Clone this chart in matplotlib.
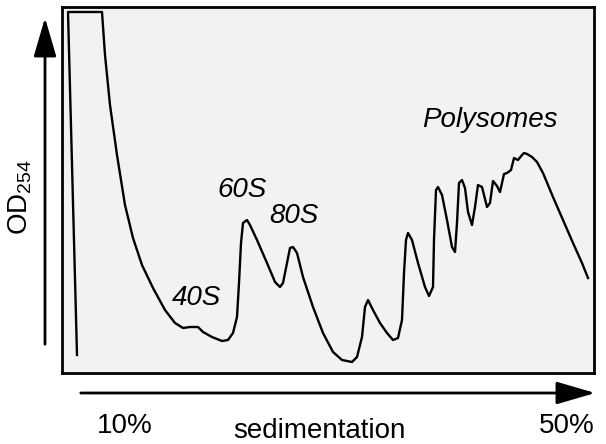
import matplotlib.pyplot as plt

plt.rcParams['font.family'] = ['Liberation Sans', 'DejaVu Sans']
plt.rcParams['mathtext.default'] = 'regular'

# gradient position (arbitrary units, top of gradient at 0) and absorbance trace
position = [15, 6, 40, 43, 48, 55, 63, 71, 80, 91, 103, 113, 121, 128, 136,
            141, 150, 160, 166, 171, 175, 177, 179, 181, 185, 188, 195, 205,
            213, 218, 221, 225, 228, 231, 235, 241, 251, 261, 271, 280, 290,
            295, 300, 303, 306, 311, 318, 325, 331, 336, 340, 342, 344, 346,
            350, 356, 363, 367, 371, 372, 374, 376, 380, 385, 390, 393, 395,
            397, 400, 403, 406, 410, 413, 416, 420, 425, 428, 431, 435, 438,
            442, 445, 449, 452, 456, 460, 462, 465, 470, 475, 481, 491, 501,
            511, 520, 526]
od254 = [18, 361, 361, 318, 268, 218, 168, 135, 108, 85, 63, 50, 45, 46, 46,
         41, 36, 32, 33, 40, 56, 90, 130, 150, 153, 148, 133, 110,
         91, 86, 90, 110, 125, 126, 120, 96, 66, 40, 21, 13, 11,
         16, 36, 66, 73, 63, 50, 40, 33, 35, 53, 100, 133, 140,
         133, 110, 86, 77, 86, 133, 183, 186, 178, 153, 126, 121, 150,
         190, 193, 185, 161, 148, 166, 188, 186, 166, 170, 192, 187, 181,
         199, 200, 203, 215, 213, 218, 220, 219, 216, 211, 200, 176, 153,
         130, 110, 95]

peak_labels = ['40S', '60S', '80S', 'Polysomes']
peak_label_pos = [(134, 68), (180, 176), (232, 150), (428, 246)]

fig = plt.figure(figsize=(6.06, 4.44), dpi=100)
ax = fig.add_axes([62 / 606, 71 / 444, 532 / 606, 366 / 444])
ax.set_facecolor('#f2f2f2')
ax.plot(position, od254, color='black', lw=1.7, solid_joinstyle='round')
ax.set_xlim(0, 532)
ax.set_ylim(0, 366)
ax.set_xticks([])
ax.set_yticks([])
for s in ax.spines.values():
    s.set_linewidth(2)

for lab, (x, y) in zip(peak_labels, peak_label_pos):
    ax.text(x, y, lab, fontsize=20, style='italic', ha='center', va='baseline')

# axis arrows
arrow = dict(arrowstyle='-|>,head_length=1.2,head_width=0.35',
             mutation_scale=20, lw=2, color='black')
fig.add_artist(plt.Annotation('', xy=(45, 429), xytext=(45, 97),
                              xycoords='figure pixels', arrowprops=arrow))
fig.add_artist(plt.Annotation('', xy=(598, 51), xytext=(78, 51),
                              xycoords='figure pixels', arrowprops=arrow))

fig.text(20 / 606, 247 / 444, 'OD$_{254}$', fontsize=20, rotation=90,
         ha='center', va='center')
fig.text(125 / 606, 18 / 444, '10%', fontsize=20, ha='center', va='center')
fig.text(567 / 606, 18 / 444, '50%', fontsize=20, ha='center', va='center')
fig.text(319 / 606, 6 / 444, 'sedimentation', fontsize=20, ha='center',
         va='baseline')

fig.savefig('out.png', dpi=100)
